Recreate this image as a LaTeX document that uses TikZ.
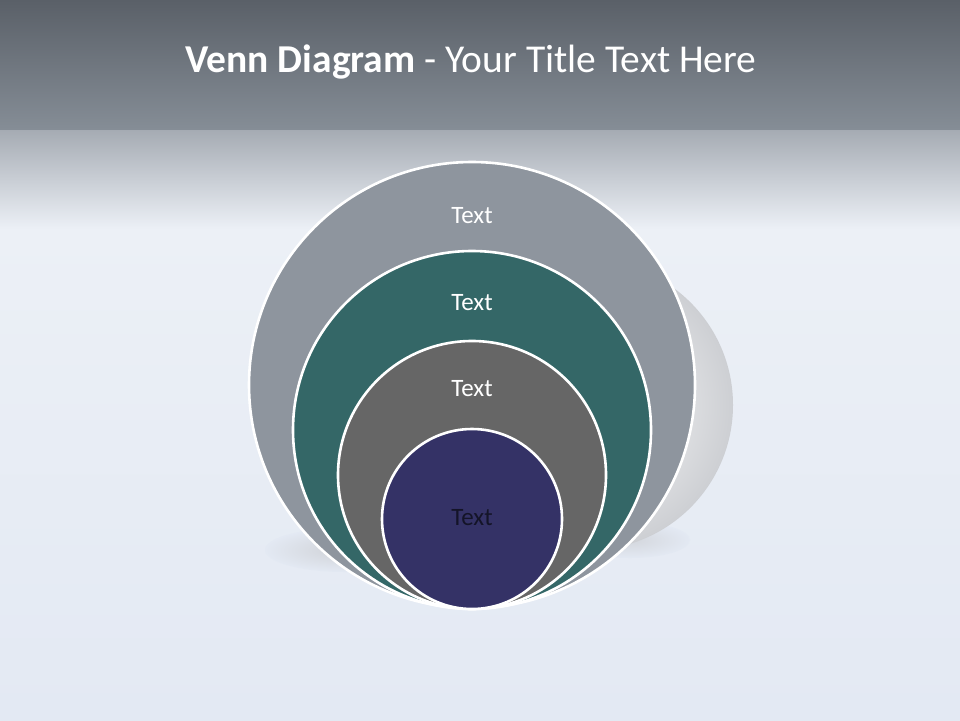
\documentclass[tikz,border=0pt]{standalone}
\usepackage{fontspec}
\setmainfont{Carlito}
\usetikzlibrary{shapes.geometric}
\definecolor{bgmain}{HTML}{E3E9F3}
\definecolor{bglight}{HTML}{ECF0F6}
\definecolor{headtop}{HTML}{5A6068}
\definecolor{headbot}{HTML}{858D96}
\definecolor{fadetop}{HTML}{A4AAB2}
\definecolor{cone}{HTML}{8E959E}
\definecolor{ctwo}{HTML}{346767}
\definecolor{cthree}{HTML}{666666}
\definecolor{cfour}{HTML}{343266}
\definecolor{innertext}{HTML}{141428}
\definecolor{shadowgray}{HTML}{CDCFD3}
\tikzset{
  ring/.style={draw=white, line width=2.6pt},
  lbl/.style={font=\fontsize{25}{29}\selectfont, text=white, inner sep=0pt},
}
\begin{document}
\begin{tikzpicture}[x=1pt,y=-1pt]
\useasboundingbox (0,0) rectangle (960,720);
% background
\shade[top color=bglight, bottom color=bgmain] (0,228) rectangle (960,720);
\shade[top color=fadetop, bottom color=bglight] (0,128) rectangle (960,229);
\shade[top color=headtop, bottom color=headbot] (0,0) rectangle (960,129);
% title
\node[inner sep=0pt, text=white, font=\fontsize{39.5}{44}\selectfont] (title) at (471,62)
  {\textbf{Venn Diagram} - Your Title Text Here};
% soft shadows
\shade[inner color=shadowgray!90!bgmain, outer color=bgmain] (345,550) ellipse (80 and 22);
\shade[inner color=shadowgray!70!bgmain, outer color=bgmain] (630,540) ellipse (60 and 18);
% back circle
\shade[inner color=white, outer color=shadowgray] (588,405) circle (145);
% nested circles
\node[ring, circle, fill=cone, minimum size=446pt, inner sep=0pt] (c1) at (472,385) {};
\node[ring, circle, fill=ctwo, minimum size=358pt, inner sep=0pt] (c2) at (472,430) {};
\node[ring, circle, fill=cthree, minimum size=268pt, inner sep=0pt] (c3) at (472,475) {};
\node[ring, circle, fill=cfour, minimum size=180pt, inner sep=0pt] (c4) at (472,519) {};
% labels
\node[lbl] (t1) at (472,216) {Text};
\node[lbl] (t2) at (472,303) {Text};
\node[lbl] (t3) at (472,389) {Text};
\node[lbl, text=innertext] (t4) at (472,518) {Text};
\end{tikzpicture}
\end{document}
